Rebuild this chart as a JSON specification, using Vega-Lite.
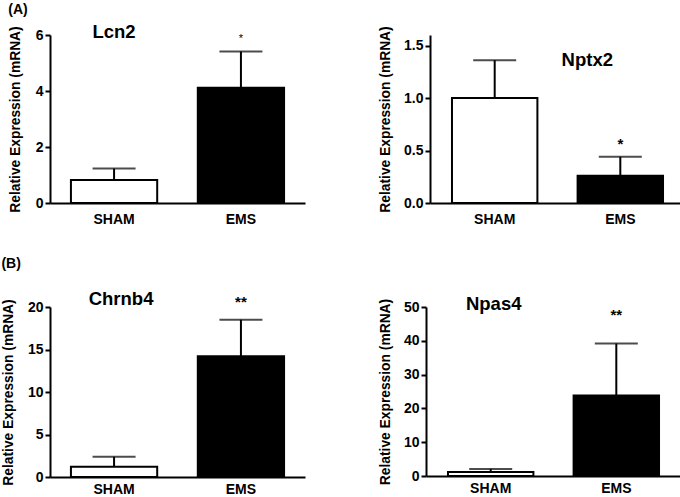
{
  "$schema": "https://vega.github.io/schema/vega-lite/v6.json",
  "padding": {"left": 1, "top": 3, "right": 0, "bottom": 0},
  "background": "white",
  "config": {
    "font": "Liberation Sans",
    "view": {"stroke": null},
    "axis": {
      "domainColor": "black", "domainWidth": 2, "tickColor": "black", "tickWidth": 2, "tickSize": 5,
      "labelColor": "black", "labelFontWeight": "bold", "labelFontSize": 14, "grid": false, "labelOverlap": false,
      "labelPadding": 2,
      "titleColor": "black", "titleFontWeight": "bold", "titleFontSize": 13.8, "titlePadding": 11
    },
    "axisX": {"ticks": false, "labelAngle": 0, "labelFontSize": 14, "labelPadding": 9},
    "title": {"fontSize": 14, "fontWeight": "bold", "anchor": "start", "color": "black"},
    "concat": {"spacing": 30}
  },
  "vconcat": [
    {
      "title": {"text": "(A)", "offset": 6},
      "spacing": 73,
      "hconcat": [
        {
          "width": 255, "height": 168,
          "data": {"values": [{"group": "SHAM", "mean": 0.82, "upper": 1.23}, {"group": "EMS", "mean": 4.12, "upper": 5.41}]},
          "encoding": {"x": {"field": "group", "type": "nominal", "sort": ["SHAM", "EMS"], "title": null, "scale": {"paddingInner": 0.32, "paddingOuter": 0.165}}},
          "layer": [
            {"mark": {"type": "bar", "stroke": "black", "strokeWidth": 2},
             "encoding": {"y": {"field": "mean", "type": "quantitative", "title": "Relative Expression (mRNA)", "scale": {"domain": [0, 6]}, "axis": {"values": [0, 2, 4, 6], "titlePadding": 13}},
                          "fill": {"field": "group", "type": "nominal", "scale": {"domain": ["SHAM", "EMS"], "range": ["#ffffff", "#000000"]}, "legend": null}}},
            {"mark": {"type": "rule", "color": "black", "strokeWidth": 2},
             "encoding": {"y": {"field": "mean", "type": "quantitative", "title": "Relative Expression (mRNA)", "axis": {"values": [0, 2, 4, 6], "titlePadding": 13}}, "y2": {"field": "upper"}}},
            {"mark": {"type": "tick", "color": "black", "thickness": 2, "size": 43},
             "encoding": {"y": {"field": "upper", "type": "quantitative", "title": "Relative Expression (mRNA)", "axis": {"values": [0, 2, 4, 6], "titlePadding": 13}}}},
            {"data": {"values": [{"group": "EMS", "pos": 5.85, "label": "*"}]},
             "mark": {"type": "text", "fontSize": 11, "color": "black"},
             "encoding": {"y": {"field": "pos", "type": "quantitative", "title": "Relative Expression (mRNA)", "axis": {"values": [0, 2, 4, 6], "titlePadding": 13}}, "text": {"field": "label"}}},
            {"data": {"values": [{"group": "SHAM", "pos": 6.1, "label": "Lcn2"}]},
             "mark": {"type": "text", "fontSize": 18.5, "fontWeight": "bold", "color": "black"},
             "encoding": {"y": {"field": "pos", "type": "quantitative", "title": "Relative Expression (mRNA)", "axis": {"values": [0, 2, 4, 6], "titlePadding": 13}}, "text": {"field": "label"}}}
          ]
        },
        {
          "width": 255, "height": 168,
          "data": {"values": [{"group": "SHAM", "mean": 1.0, "upper": 1.36}, {"group": "EMS", "mean": 0.26, "upper": 0.44}]},
          "encoding": {"x": {"field": "group", "type": "nominal", "sort": ["SHAM", "EMS"], "title": null, "scale": {"paddingInner": 0.32, "paddingOuter": 0.175}}},
          "layer": [
            {"mark": {"type": "bar", "stroke": "black", "strokeWidth": 2},
             "encoding": {"y": {"field": "mean", "type": "quantitative", "title": "Relative Expression (mRNA)", "scale": {"domain": [0, 1.5]}, "axis": {"values": [0, 0.5, 1, 1.5], "format": ".1f"}},
                          "fill": {"field": "group", "type": "nominal", "scale": {"domain": ["SHAM", "EMS"], "range": ["#ffffff", "#000000"]}, "legend": null}}},
            {"mark": {"type": "rule", "color": "black", "strokeWidth": 2},
             "encoding": {"y": {"field": "mean", "type": "quantitative", "title": "Relative Expression (mRNA)", "axis": {"values": [0, 0.5, 1, 1.5], "format": ".1f"}}, "y2": {"field": "upper"}}},
            {"mark": {"type": "tick", "color": "black", "thickness": 2, "size": 43},
             "encoding": {"y": {"field": "upper", "type": "quantitative", "title": "Relative Expression (mRNA)", "axis": {"values": [0, 0.5, 1, 1.5], "format": ".1f"}}}},
            {"data": {"values": [{"group": "EMS", "pos": 0.56, "label": "*"}]},
             "mark": {"type": "text", "fontSize": 15, "fontWeight": "bold", "color": "black"},
             "encoding": {"y": {"field": "pos", "type": "quantitative", "title": "Relative Expression (mRNA)", "axis": {"values": [0, 0.5, 1, 1.5], "format": ".1f"}}, "text": {"field": "label"}}},
            {"data": {"values": [{"group": "EMS", "pos": 1.36, "label": "Nptx2"}]},
             "mark": {"type": "text", "fontSize": 18.5, "fontWeight": "bold", "color": "black", "dx": -33},
             "encoding": {"y": {"field": "pos", "type": "quantitative", "title": "Relative Expression (mRNA)", "axis": {"values": [0, 0.5, 1, 1.5], "format": ".1f"}}, "text": {"field": "label"}}}
          ]
        }
      ]
    },
    {
      "title": {"text": "(B)", "offset": 19},
      "spacing": 73,
      "hconcat": [
        {
          "width": 255, "height": 170,
          "data": {"values": [{"group": "SHAM", "mean": 1.22, "upper": 2.38}, {"group": "EMS", "mean": 14.2, "upper": 18.5}]},
          "encoding": {"x": {"field": "group", "type": "nominal", "sort": ["SHAM", "EMS"], "title": null, "axis": {"labelPadding": 5}, "scale": {"paddingInner": 0.32, "paddingOuter": 0.165}}},
          "layer": [
            {"mark": {"type": "bar", "stroke": "black", "strokeWidth": 2},
             "encoding": {"y": {"field": "mean", "type": "quantitative", "title": "Relative Expression (mRNA)", "scale": {"domain": [0, 20]}, "axis": {"values": [0, 5, 10, 15, 20], "titlePadding": 12}},
                          "fill": {"field": "group", "type": "nominal", "scale": {"domain": ["SHAM", "EMS"], "range": ["#ffffff", "#000000"]}, "legend": null}}},
            {"mark": {"type": "rule", "color": "black", "strokeWidth": 2},
             "encoding": {"y": {"field": "mean", "type": "quantitative", "title": "Relative Expression (mRNA)", "axis": {"values": [0, 5, 10, 15, 20], "titlePadding": 12}}, "y2": {"field": "upper"}}},
            {"mark": {"type": "tick", "color": "black", "thickness": 2, "size": 43},
             "encoding": {"y": {"field": "upper", "type": "quantitative", "title": "Relative Expression (mRNA)", "axis": {"values": [0, 5, 10, 15, 20], "titlePadding": 12}}}},
            {"data": {"values": [{"group": "EMS", "pos": 20.6, "label": "**"}]},
             "mark": {"type": "text", "fontSize": 15, "fontWeight": "bold", "color": "black"},
             "encoding": {"y": {"field": "pos", "type": "quantitative", "title": "Relative Expression (mRNA)", "axis": {"values": [0, 5, 10, 15, 20], "titlePadding": 12}}, "text": {"field": "label"}}},
            {"data": {"values": [{"group": "SHAM", "pos": 21.0, "label": "Chrnb4"}]},
             "mark": {"type": "text", "fontSize": 18.5, "fontWeight": "bold", "color": "black", "dx": 7},
             "encoding": {"y": {"field": "pos", "type": "quantitative", "title": "Relative Expression (mRNA)", "axis": {"values": [0, 5, 10, 15, 20], "titlePadding": 12}}, "text": {"field": "label"}}}
          ]
        },
        {
          "width": 255, "height": 169,
          "data": {"values": [{"group": "SHAM", "mean": 1.2, "upper": 2.1}, {"group": "EMS", "mean": 23.8, "upper": 39.2}]},
          "encoding": {"x": {"field": "group", "type": "nominal", "sort": ["SHAM", "EMS"], "title": null, "axis": {"labelPadding": 5}, "scale": {"paddingInner": 0.32, "paddingOuter": 0.175}}},
          "layer": [
            {"mark": {"type": "bar", "stroke": "black", "strokeWidth": 2},
             "encoding": {"y": {"field": "mean", "type": "quantitative", "title": "Relative Expression (mRNA)", "scale": {"domain": [0, 50]}, "axis": {"values": [0, 10, 20, 30, 40, 50]}},
                          "fill": {"field": "group", "type": "nominal", "scale": {"domain": ["SHAM", "EMS"], "range": ["#ffffff", "#000000"]}, "legend": null}}},
            {"mark": {"type": "rule", "color": "black", "strokeWidth": 2},
             "encoding": {"y": {"field": "mean", "type": "quantitative", "title": "Relative Expression (mRNA)", "axis": {"values": [0, 10, 20, 30, 40, 50]}}, "y2": {"field": "upper"}}},
            {"mark": {"type": "tick", "color": "black", "thickness": 2, "size": 43},
             "encoding": {"y": {"field": "upper", "type": "quantitative", "title": "Relative Expression (mRNA)", "axis": {"values": [0, 10, 20, 30, 40, 50]}}}},
            {"data": {"values": [{"group": "EMS", "pos": 47.5, "label": "**"}]},
             "mark": {"type": "text", "fontSize": 15, "fontWeight": "bold", "color": "black"},
             "encoding": {"y": {"field": "pos", "type": "quantitative", "title": "Relative Expression (mRNA)", "axis": {"values": [0, 10, 20, 30, 40, 50]}}, "text": {"field": "label"}}},
            {"data": {"values": [{"group": "SHAM", "pos": 51.0, "label": "Npas4"}]},
             "mark": {"type": "text", "fontSize": 18.5, "fontWeight": "bold", "color": "black", "dx": 3},
             "encoding": {"y": {"field": "pos", "type": "quantitative", "title": "Relative Expression (mRNA)", "axis": {"values": [0, 10, 20, 30, 40, 50]}}, "text": {"field": "label"}}}
          ]
        }
      ]
    }
  ]
}
